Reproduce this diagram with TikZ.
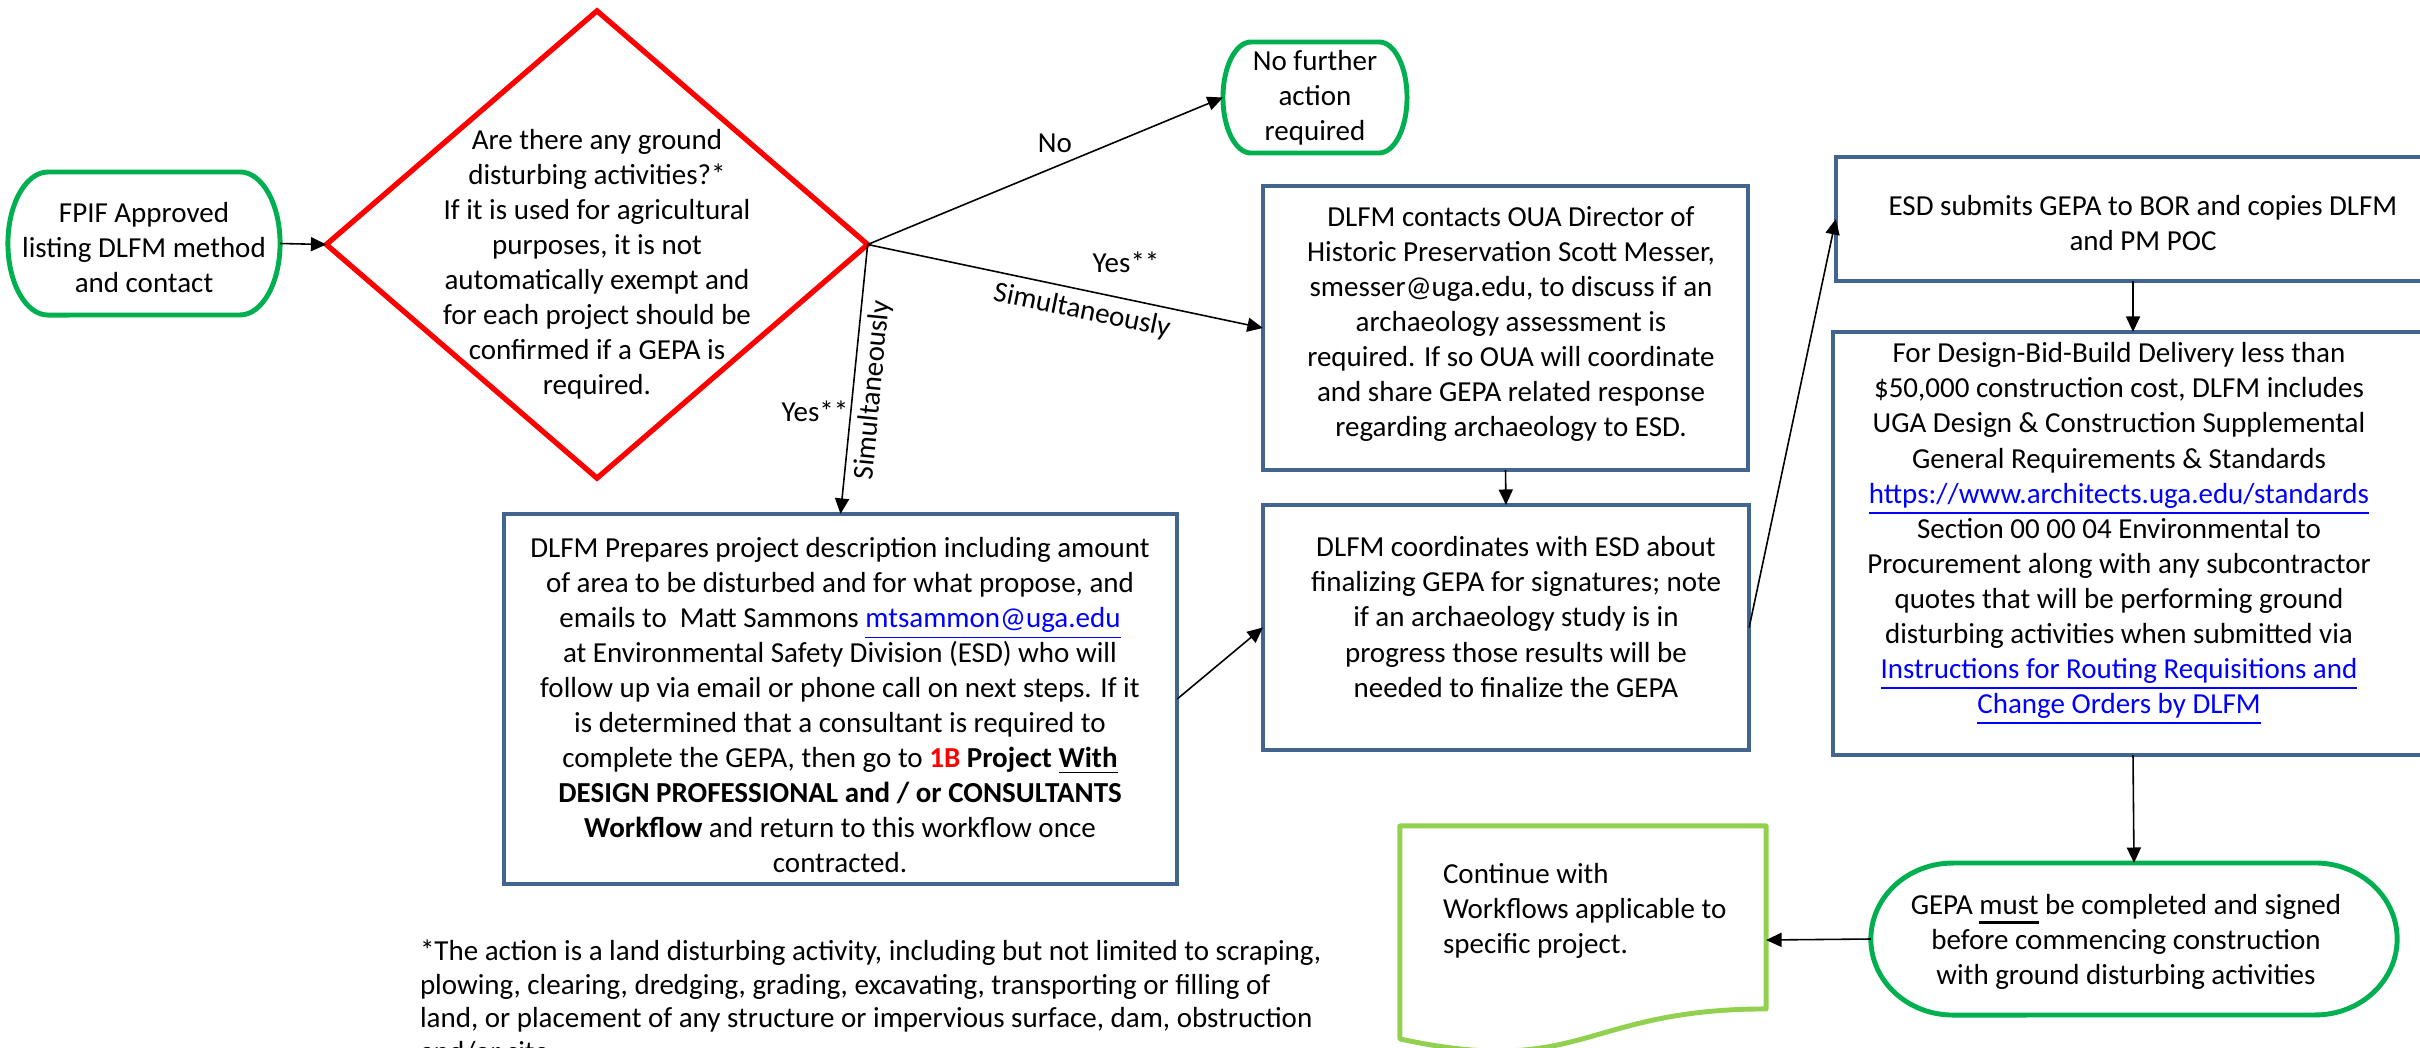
\documentclass[tikz,border=0pt]{standalone}
\usepackage{fontspec}
\setmainfont{Carlito}
\usetikzlibrary{arrows.meta,calc,shapes.geometric}

\definecolor{boxblue}{RGB}{65,100,145}
\definecolor{termgreen}{RGB}{0,176,80}
\definecolor{docgreen}{RGB}{146,208,80}
\definecolor{linkblue}{RGB}{0,0,255}
\definecolor{alertred}{RGB}{255,0,0}

\newcommand\bodysize{\fontsize{8.25pt}{9.96pt}\selectfont}
\newcommand\notesize{\fontsize{8.25pt}{9.53pt}\selectfont}
\newcommand\lnk[1]{{\color{linkblue}\underline{#1}}}
\newcommand\heavyul[1]{{\setbox0\hbox{#1}\rlap{\rule[-2.6pt]{\wd0}{0.9pt}}\box0}}

% outline of a flowchart terminator around a named node: node, x radius, y radius
\newcommand\terminatorframe[3]{%
  \draw[termline] ($(#1.north west)+(#2,0)$) -- ($(#1.north east)+(-#2,0)$)
    arc[start angle=90,end angle=-90,x radius=#2,y radius=#3]
    -- ($(#1.south west)+(#2,0)$)
    arc[start angle=270,end angle=90,x radius=#2,y radius=#3] -- cycle;}

\begin{document}
\begin{tikzpicture}[x=0.01cm,y=0.01cm,
  every node/.style={font=\bodysize, inner sep=0pt, outer sep=0pt},
  frame/.style={inner sep=0pt, outer sep=0pt},
  txt/.style={align=center},
  bluebox/.style={draw=boxblue, line width=1.3pt, rectangle, inner sep=0pt, outer sep=0pt},
  termline/.style={draw=termgreen, line width=1.4pt},
  docline/.style={draw=docgreen, line width=1.4pt, line join=round},
  decision/.style={draw=alertred, line width=1.5pt, diamond, inner sep=0pt, outer sep=0pt},
  flow/.style={-{Triangle[length=4.4pt,width=4pt]}, line width=0.45pt},
]
\useasboundingbox (0,0) rectangle (2420,-1048);
\clip (0,0) rectangle (2420,-1048);
\fill[white] (0,0) rectangle (2420,-1048);

% ---------- frames ----------
\node[frame, minimum width=2.72cm, minimum height=1.43cm] (start) at (144,-243.5) {};
\terminatorframe{start}{40}{71.5}

\node[decision, minimum width=5.41cm, minimum height=4.67cm] (dec) at (597,-244.5) {};

\node[frame, minimum width=1.84cm, minimum height=1.11cm] (nofurther) at (1315,-97.5) {};
\terminatorframe{nofurther}{28}{55.5}

\node[bluebox, minimum width=4.85cm, minimum height=2.84cm] (contacts) at (1505.5,-328) {};
\node[bluebox, minimum width=6.73cm, minimum height=3.70cm] (prepares) at (840.5,-699) {};
\node[bluebox, minimum width=4.86cm, minimum height=2.45cm] (coord) at (1506,-627.5) {};
\node[bluebox, minimum width=6.14cm, minimum height=1.24cm] (esd) at (2143,-219) {};
\node[bluebox, minimum width=6.00cm, minimum height=4.23cm] (big) at (2133,-543.5) {};

\node[frame, minimum width=5.26cm, minimum height=1.52cm] (gepa) at (2134,-939) {};
\terminatorframe{gepa}{82}{76}

\node[frame, minimum width=3.66cm, minimum height=2.28cm] (cont) at (1583,-940) {};
\draw[docline] (cont.north west) -- (cont.north east) -- ($(cont.north east)+(0,-183)$)
  .. controls ($(cont.north)+(0,-183)$) and ($(cont.north)+(0,-252.5)$) .. ($(cont.north west)+(0,-213)$)
  -- cycle;

% ---------- texts ----------
\node[txt] (starttext) at (144,-248) {FPIF Approved\\listing DLFM method\\and contact};

\node[txt] (dectext) at (597,-264) {Are there any ground\\disturbing activities?*\\If it is used for agricultural\\purposes, it is not\\automatically exempt and\\for each project should be\\confirmed if a GEPA is\\required.};

\node[txt] (nofurthertext) at (1315,-98) {No further\\action\\required};

\node[txt] (contactstext) at (1511,-324) {DLFM contacts OUA Director of\\Historic Preservation Scott Messer,\\smesser@uga.edu, to discuss if an\\archaeology assessment is\\required. If so OUA will coordinate\\and share GEPA related response\\regarding archaeology to ESD.};

\node[txt] (preparestext) at (840,-705) {DLFM Prepares project description including amount\\of area to be disturbed and for what propose, and\\emails to\ \ Matt Sammons \lnk{mtsammon@uga.edu}\\at Environmental Safety Division (ESD) who will\\follow up via email or phone call on next steps. If it\\is determined that a consultant is required to\\complete the GEPA, then go to {\bfseries\color{alertred}1B} {\bfseries Project \underline{With}}\\{\bfseries DESIGN PROFESSIONAL and / or CONSULTANTS}\\{\bfseries Workflow} and return to this workflow once\\contracted.};

\node[txt] (coordtext) at (1516,-617) {DLFM coordinates with ESD about\\finalizing GEPA for signatures; note\\if an archaeology study is in\\progress those results will be\\needed to finalize the GEPA};

\node[txt] (esdtext) at (2143,-223) {ESD submits GEPA to BOR and copies DLFM\\and PM POC};

\node[txt] (bigtext) at (2119,-534) {For Design-Bid-Build Delivery less than\\\$50,000 construction cost, DLFM includes\\UGA Design \& Construction Supplemental\\General Requirements \& Standards\\\lnk{https://www.architects.uga.edu/standards}\\Section 00 00 04 Environmental to\\Procurement along with any subcontractor\\quotes that will be performing ground\\disturbing activities when submitted via\\\lnk{Instructions for Routing Requisitions and}\\\lnk{Change Orders by DLFM}};

\node[txt] (gepatext) at (2126,-942) {GEPA \heavyul{must} be completed and signed\\before commencing construction\\with ground disturbing activities};

\node[align=left, anchor=west] (conttext) at (1443,-911) {Continue with\\Workflows applicable to\\specific project.};

\node[align=left, anchor=north west, font=\notesize] (footnote) at (420,-940) {*The action is a land disturbing activity, including but not limited to scraping,\\plowing, clearing, dredging, grading, excavating, transporting or filling of\\land, or placement of any structure or impervious surface, dam, obstruction\\and/or site};

% ---------- connectors ----------
\draw[flow] (start.east) -- (dec.west);
\draw[flow] (dec.east) -- (nofurther.west);
\draw[flow] (dec.east) -- (contacts.west);
\draw[flow] (dec.east) -- (prepares.north);
\draw[flow] (contacts.south) -- (coord.north);
\draw[flow] (prepares.east) -- (coord.west);
\draw[flow] (coord.east) -- (esd.west);
\draw[flow] (esd.south -| big.north) -- (big.north);
\draw[flow] (big.south) -- (gepa.north);
\draw[flow] (gepa.west) -- (cont.east);

% ---------- connector labels ----------
\node (lno) at (1055,-143) {No};
\node (lyes1) at (1126,-262) {Yes**};
\node[rotate=-11.7] (lsim1) at (1082,-311) {Simultaneously};
\node (lyes2) at (815,-411) {Yes**};
\node[rotate=84.5] (lsim2) at (873,-390) {Simultaneously};
\end{tikzpicture}
\end{document}
